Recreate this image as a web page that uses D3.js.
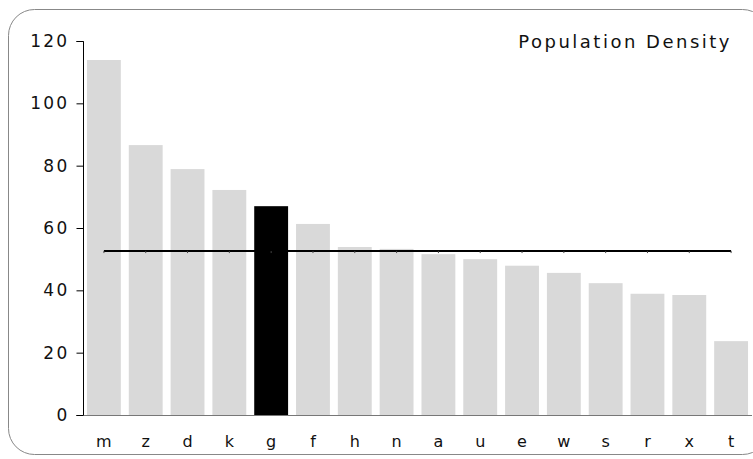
<!DOCTYPE html>
<html>
<head>
<meta charset="utf-8">
<script src="https://cdn.jsdelivr.net/npm/d3@7"></script>
<style>
  body { margin: 0; background: #fff; }
  text { font-family: "DejaVu Sans", sans-serif; fill: #111; }
</style>
</head>
<body>
<div id="root"></div>
<script>
const categories = ["m", "z", "d", "k", "g", "f", "h", "n", "a", "u", "e", "w", "s", "r", "x", "t"];
const values = [113.9, 86.6, 78.9, 72.2, 67.0, 61.3, 53.9, 53.3, 51.6, 50.0, 47.9, 45.6, 42.3, 38.9, 38.5, 23.7];
const highlight = "g";
const average = 52.6;
const yTicks = [0, 20, 40, 60, 80, 100, 120];
const title = "Population Density";

const width = 753;
const height = 459;

const svg = d3.select("#root")
  .append("svg")
    .attr("width", width)
    .attr("height", height);

// frame
svg.append("rect")
  .attr("x", 8.5).attr("y", 9.5)
  .attr("width", 760).attr("height", 445)
  .attr("rx", 26).attr("ry", 26)
  .attr("fill", "none")
  .attr("stroke", "#888")
  .attr("stroke-width", 1);

const x = d3.scaleBand()
  .domain(categories)
  .range([83, 752])
  .paddingInner(0.19)
  .paddingOuter(0.095);

const y = d3.scaleLinear()
  .domain([0, 120])
  .range([415, 41]);

// bars
svg.append("g")
  .selectAll("rect")
  .data(categories)
  .join("rect")
    .attr("x", d => x(d))
    .attr("y", (d, i) => y(values[i]))
    .attr("width", x.bandwidth())
    .attr("height", (d, i) => y(0) - y(values[i]))
    .attr("fill", d => d === highlight ? "#000" : "#d9d9d9");

// baseline
svg.append("line")
  .attr("x1", 76).attr("x2", 752)
  .attr("y1", y(0) + 0.5).attr("y2", y(0) + 0.5)
  .attr("stroke", "#777")
  .attr("stroke-width", 1);

// y axis
const yAxis = svg.append("g")
  .attr("transform", "translate(83.5,0)")
  .call(d3.axisLeft(y).tickValues(yTicks).tickSize(7).tickPadding(7));
yAxis.select(".domain").attr("d", `M-7,${y(120) + 0.5}H0V${y(0)}`).attr("stroke", "#000");
yAxis.selectAll(".tick line").attr("stroke", "#000");
yAxis.selectAll(".tick text")
  .attr("fill", "#111")
  .style("font-size", "17px")
  .style("letter-spacing", "2.3px")
  .style("font-family", "DejaVu Sans, sans-serif");

// x labels
svg.append("g")
  .selectAll("text")
  .data(categories)
  .join("text")
    .attr("x", d => x(d) + x.bandwidth() / 2)
    .attr("y", 447)
    .attr("text-anchor", "middle")
    .style("font-size", "16px")
    .text(d => d);

// average line
const avgPts = categories.map(d => [x(d) + x.bandwidth() / 2, y(average)]);
svg.append("path")
  .attr("d", d3.line()(avgPts))
  .attr("fill", "none")
  .attr("stroke", "#000")
  .attr("stroke-width", 2);
svg.append("g")
  .selectAll("line")
  .data(avgPts)
  .join("line")
    .attr("x1", d => d[0]).attr("x2", d => d[0])
    .attr("y1", d => d[1]).attr("y2", d => d[1] + 2)
    .attr("stroke", "#444")
    .attr("stroke-width", 1);

// title
svg.append("text")
  .attr("x", 732)
  .attr("y", 48)
  .attr("text-anchor", "end")
  .style("font-size", "18px")
  .style("letter-spacing", "2.5px")
  .text(title);
</script>
</body>
</html>
